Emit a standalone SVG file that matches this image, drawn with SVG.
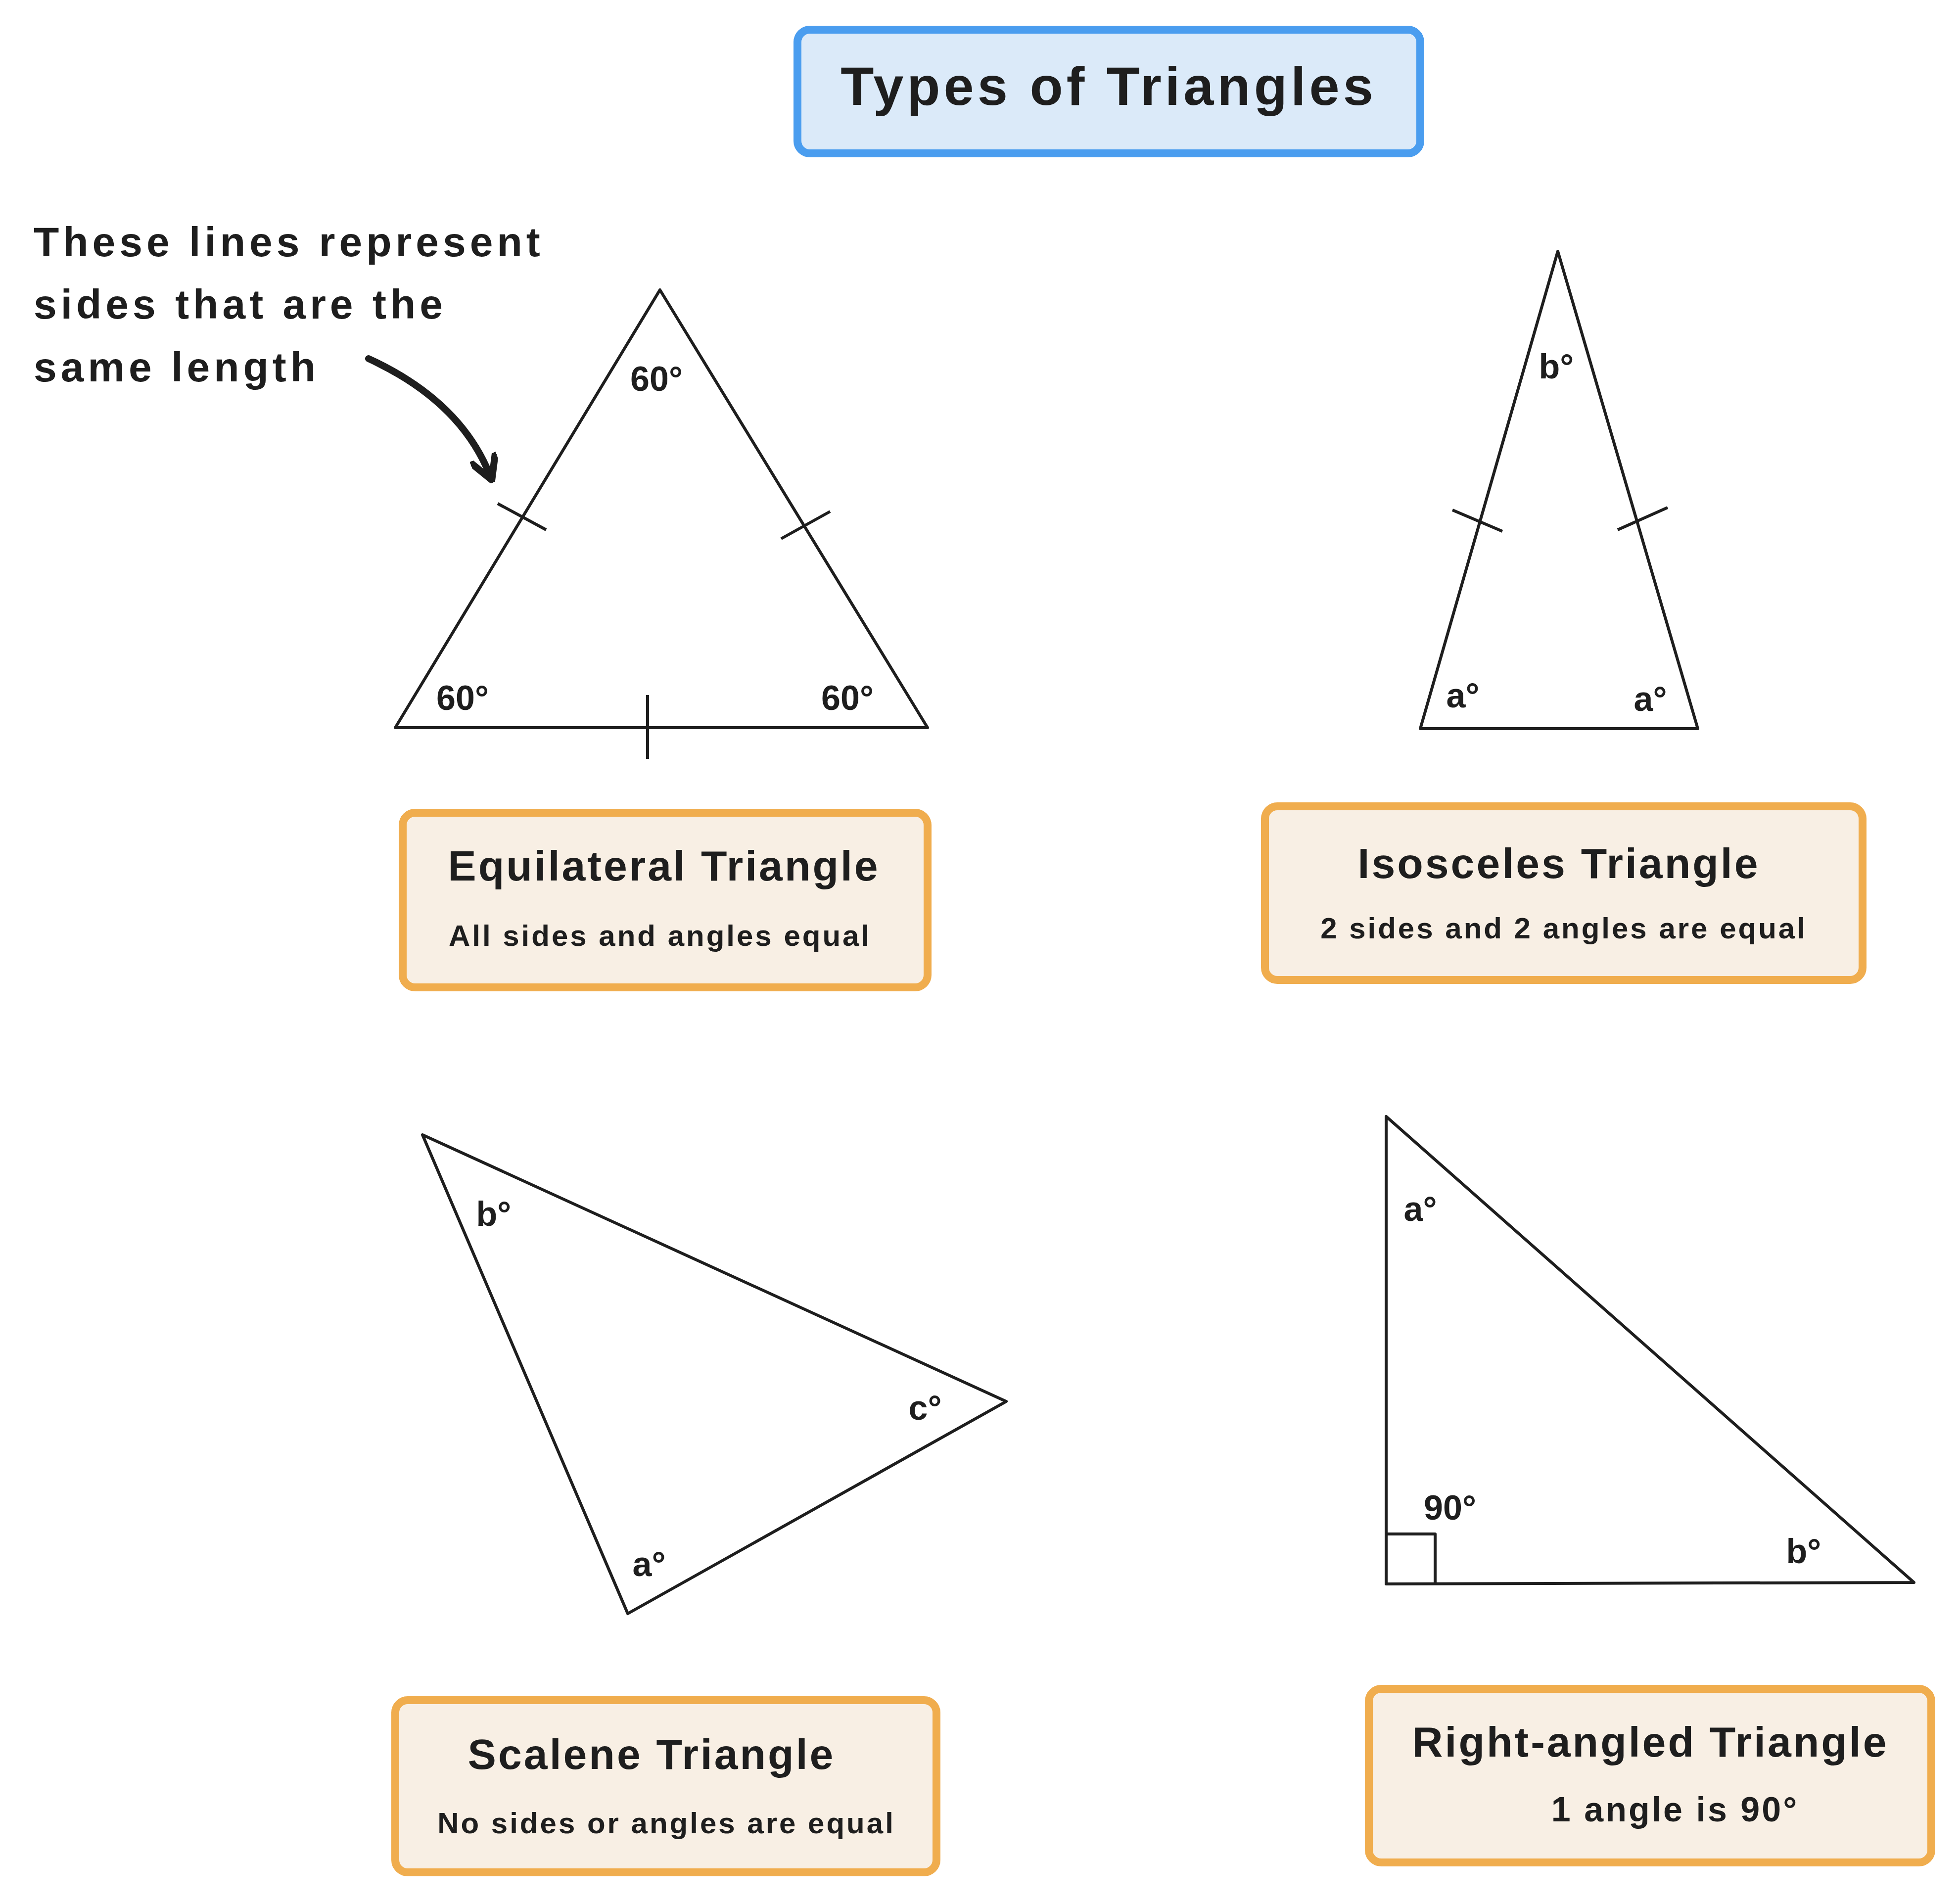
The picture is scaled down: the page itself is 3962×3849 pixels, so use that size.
<svg xmlns="http://www.w3.org/2000/svg" width="3962" height="3849" viewBox="0 0 3962 3849">
<style>
text{font-family:"Liberation Sans","DejaVu Sans",sans-serif;fill:#1e1e1e;text-anchor:middle}
.tri{fill:none;stroke:#1e1e1e;stroke-width:6;stroke-linejoin:round}
.box{fill:#f8efe4;stroke:#f0ad4e;stroke-width:16}
.h{font-size:86px;font-weight:bold;letter-spacing:4px}
.s{font-size:60px;font-weight:bold;letter-spacing:4px}
.l{font-size:70px;font-weight:bold}
.n{font-size:84px;font-weight:bold;text-anchor:start;letter-spacing:8px}
</style>
<defs><marker id="ah" viewBox="0 0 10 10" refX="7" refY="5" markerWidth="4" markerHeight="4" orient="auto"><path d="M0,0 L9,5 L0,10" fill="none" stroke="#1e1e1e" stroke-width="2.5"/></marker></defs>
<rect width="3962" height="3849" fill="#fff"/>
<g id="title"><rect x="1612" y="60" width="1259" height="250" rx="25" fill="#dbeaf9" stroke="#4a9def" stroke-width="16"/><text x="2241" y="212" style="font-size:110px;font-weight:bold;letter-spacing:7px">Types of Triangles</text></g>
<g id="note"><text class="n" x="68" y="518">These lines represent</text><text class="n" x="68" y="644">sides that are the</text><text class="n" x="68" y="771">same length</text></g>
<g id="connectors"><path d="M745,725 Q930,810 990,960" fill="none" stroke="#1e1e1e" stroke-width="14" stroke-linecap="round" marker-end="url(#ah)"/></g>
<g id="equilateral">
<polygon class="tri" points="1334,586 799,1471 1875,1471"/>
<path class="tri" d="M1006,1018 L1104,1071 M1579,1089 L1678,1034 M1309,1405 L1309,1534"/>
<text class="l" x="1327" y="790">60°</text><text class="l" x="935" y="1435">60°</text><text class="l" x="1713" y="1435">60°</text>
</g>
<g id="equilateral-label"><rect class="box" x="814" y="1643" width="1061" height="353" rx="25"/><text class="h" x="1342" y="1780">Equilateral Triangle</text><text class="s" x="1334" y="1912">All sides and angles equal</text></g>
<g id="isosceles">
<polygon class="tri" points="3149,508 2871,1473 3432,1473"/>
<path class="tri" d="M2936,1031 L3037,1074 M3270,1071 L3371,1026"/>
<text class="l" x="3146" y="765">b°</text><text class="l" x="2957" y="1430">a°</text><text class="l" x="3336" y="1437">a°</text>
</g>
<g id="isosceles-label"><rect class="box" x="2557" y="1630" width="1208" height="351" rx="25"/><text class="h" x="3151" y="1775">Isosceles Triangle</text><text class="s" x="3161" y="1897">2 sides and 2 angles are equal</text></g>
<g id="scalene">
<polygon class="tri" points="854,2294 2034,2833 1269,3262"/>
<text class="l" x="998" y="2478">b°</text><text class="l" x="1870" y="2870">c°</text><text class="l" x="1312" y="3186">a°</text>
</g>
<g id="scalene-label"><rect class="box" x="799" y="3437" width="1094" height="348" rx="25"/><text class="h" x="1317" y="3576">Scalene Triangle</text><text class="s" x="1347" y="3706">No sides or angles are equal</text></g>
<g id="right">
<polygon class="tri" points="2802,2257 2802,3202 3869,3199"/>
<path class="tri" d="M2802,3101 L2901,3101 L2901,3202"/>
<text class="l" x="2871" y="2468">a°</text><text class="l" x="2931" y="3072">90°</text><text class="l" x="3646" y="3160">b°</text>
</g>
<g id="right-label"><rect class="box" x="2767" y="3414" width="1137" height="351" rx="25"/><text class="h" x="3336" y="3551">Right-angled Triangle</text><text class="l" x="3386" y="3682" style="letter-spacing:4px">1 angle is 90°</text></g>
</svg>
